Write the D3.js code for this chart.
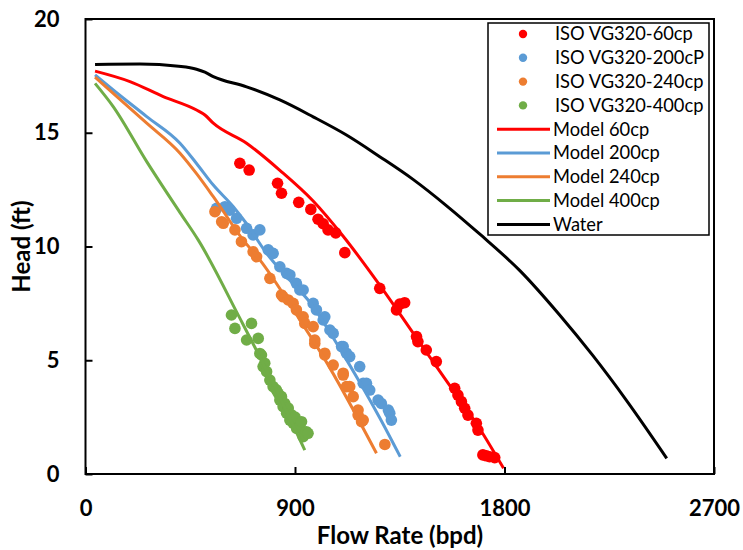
<!DOCTYPE html>
<html><head><meta charset="utf-8">
<script src="https://cdn.jsdelivr.net/npm/d3@7"></script>
<style>
body{margin:0;background:#fff}
text{font-family:Lato,"Open Sans",sans-serif;fill:#000}
</style>
</head><body>
<svg id="chart" width="743" height="550"></svg>
<script>
// ---- tick labels ----
const xTicks = [0, 900, 1800, 2700];
const yTicks = [0, 5, 10, 15, 20];

// ---- measured data (Flow rate bpd, Head ft) ----
const iso60Q  = [663,703,825,842,916,968,999,1021,1042,1075,1114,1264,1336,1350,1371,1422,1428,1464,1507,1586,1600,1615,1629,1643,1679,1686,1707,1722,1736,1758];
const iso60H  = [13.66,13.36,12.78,12.34,11.94,11.63,11.2,11.0,10.73,10.6,9.73,8.16,7.21,7.47,7.53,6.04,5.82,5.45,4.94,3.77,3.47,3.18,2.89,2.59,2.23,1.93,0.84,0.8,0.76,0.72];
const iso200Q = [563,599,620,649,692,720,749,785,806,835,864,878,906,921,935,978,992,1021,1028,1050,1064,1100,1107,1121,1135,1178,1193,1207,1221,1257,1271,1301,1307,1314];
const iso200H = [11.68,11.75,11.6,11.24,10.8,10.51,10.73,9.85,9.7,9.11,8.82,8.75,8.38,8.09,8.09,7.5,7.21,6.77,6.91,6.33,6.18,5.6,5.6,5.31,5.16,4.72,3.99,3.99,3.69,3.25,3.1,2.81,2.67,2.37];
const iso240Q = [556,585,592,642,670,720,735,792,842,849,871,892,906,935,942,978,985,985,1028,1028,1064,1107,1107,1121,1135,1150,1171,1171,1186,1193,1286];
const iso240H = [11.53,11.09,11.02,10.73,10.21,9.77,9.55,8.6,7.87,7.79,7.65,7.5,7.21,6.91,6.62,6.48,5.74,5.89,5.31,5.23,4.79,4.43,4.35,3.84,3.84,3.4,2.81,2.59,2.3,2.37,1.3];
const iso400Q = [627,642,713,692,742,749,756,763,770,778,792,806,820,828,835,842,849,856,864,871,878,885,892,900,907,921,928,935,949,956];
const iso400H = [6.99,6.4,6.62,5.89,5.96,5.3,5.23,4.72,4.87,4.5,4.13,3.84,3.7,3.55,3.25,3.4,2.96,3.1,2.67,2.9,2.37,2.6,2.23,2.5,2.0,2.08,2.3,1.64,1.86,1.79];

const model60Q  = [41,191,334,477,513,549,692,835,978,1107,1264,1407,1550,1693,1796];
const model60H  = [17.71,17.25,16.59,16.0,15.78,15.42,14.54,13.35,12.0,10.45,8.3,6.2,4.1,2.0,0.25];
const model200Q = [41,119,263,406,477,549,635,692,778,870,964,1093,1180,1265,1352];
const model200H = [17.54,16.88,15.71,14.54,13.65,12.7,11.75,11.0,9.7,8.6,7.55,5.5,4.0,2.45,0.76];
const model240Q = [41,119,263,406,477,549,677,749,921,1021,1250];
const model240H = [17.44,16.73,15.42,14.1,13.2,12.19,10.29,9.41,6.77,5.16,0.91];
const model400Q = [41,119,263,406,484,663,806,942];
const model400H = [17.17,16.15,13.73,11.49,10.29,6.85,3.99,1.05];
const waterQ = [41,234,400,477,513,549,692,835,978,1121,1264,1407,1550,1693,1865,2036,2180,2323,2497];
const waterH = [18.0,18.02,17.92,17.79,17.66,17.47,17.02,16.44,15.7,14.9,13.95,12.95,11.8,10.55,8.95,7.0,5.2,3.25,0.69];

const scatterNames = ["ISO VG320-60cp","ISO VG320-200cP","ISO VG320-240cp","ISO VG320-400cp"];
const lineNames = ["Model 60cp","Model 200cp","Model 240cp","Model 400cp","Water"];
const colors = ["#FF0000","#5B9BD5","#ED7D31","#70AD47","#000000"];

const scatterSets = [[iso60Q,iso60H],[iso200Q,iso200H],[iso240Q,iso240H],[iso400Q,iso400H]];
const lineSets = [[model60Q,model60H],[model200Q,model200H],[model240Q,model240H],[model400Q,model400H],[waterQ,waterH]];

const svg = d3.select("#chart");
const L = 85.5, R = 714, T = 19, B = 474;
const x = d3.scaleLinear().domain([0,2700]).range([L,R]);
const y = d3.scaleLinear().domain([0,20]).range([B,T]);

// scatter
scatterSets.forEach((s,i)=>{
  svg.append("g").selectAll("circle").data(s[0].map((q,k)=>[q,s[1][k]])).enter()
    .append("circle").attr("cx",d=>x(d[0])).attr("cy",d=>y(d[1])).attr("r",5.8)
    .attr("fill",colors[i]);
});
// lines
const line = d3.line().x(d=>x(d[0])).y(d=>y(d[1])).curve(d3.curveMonotoneX);
lineSets.forEach((s,i)=>{
  svg.append("path").datum(s[0].map((q,k)=>[q,s[1][k]])).attr("d",line)
    .attr("fill","none").attr("stroke",colors[i]).attr("stroke-width",3).attr("stroke-linejoin","round");
});

// axes
const xAxis = d3.axisBottom(x).tickValues(xTicks).tickSize(-7).tickPadding(26).tickFormat(d3.format("d"));
const gx = svg.append("g").attr("transform",`translate(0,${B})`).call(xAxis);
const yAxis = d3.axisLeft(y).tickValues(yTicks).tickSize(-7).tickPadding(26);
const gy = svg.append("g").attr("transform",`translate(${L},0)`).call(yAxis);
[gx,gy].forEach(g=>{
  g.select(".domain").remove();
  g.selectAll(".tick line").attr("stroke","#000").attr("stroke-width",2);
  g.selectAll(".tick text").style("font-size","22px").style("font-weight","bold").attr("fill","#000");
});
svg.append("rect").attr("x",L).attr("y",T).attr("width",R-L).attr("height",B-T)
  .attr("fill","none").attr("stroke","#000").attr("stroke-width",2);

svg.append("text").attr("x",400).attr("y",544).attr("text-anchor","middle")
  .style("font-size","24px").style("font-weight","bold").text("Flow Rate (bpd)");
svg.append("text").attr("transform",`translate(30,${(T+B)/2}) rotate(-90)`).attr("text-anchor","middle")
  .style("font-size","24px").style("font-weight","bold").text("Head (ft)");

// legend
const lg = svg.append("g");
lg.append("rect").attr("x",488).attr("y",23).attr("width",221).attr("height",212)
  .attr("fill","#fff").attr("stroke","#000").attr("stroke-width",1.5);
const names = scatterNames.concat(lineNames);
names.forEach((n,i)=>{
  const cy = 34 + i*23.8;
  if(i<4){
    lg.append("circle").attr("cx",523).attr("cy",cy).attr("r",4.2).attr("fill",colors[i]);
  } else {
    lg.append("line").attr("x1",497).attr("x2",550).attr("y1",cy).attr("y2",cy)
      .attr("stroke",colors[i-4]).attr("stroke-width",3);
  }
  lg.append("text").attr("x",i<4?555:553).attr("y",cy).attr("dy","0.35em")
    .style("font-size","18.3px").text(n);
});
</script>
</body></html>
